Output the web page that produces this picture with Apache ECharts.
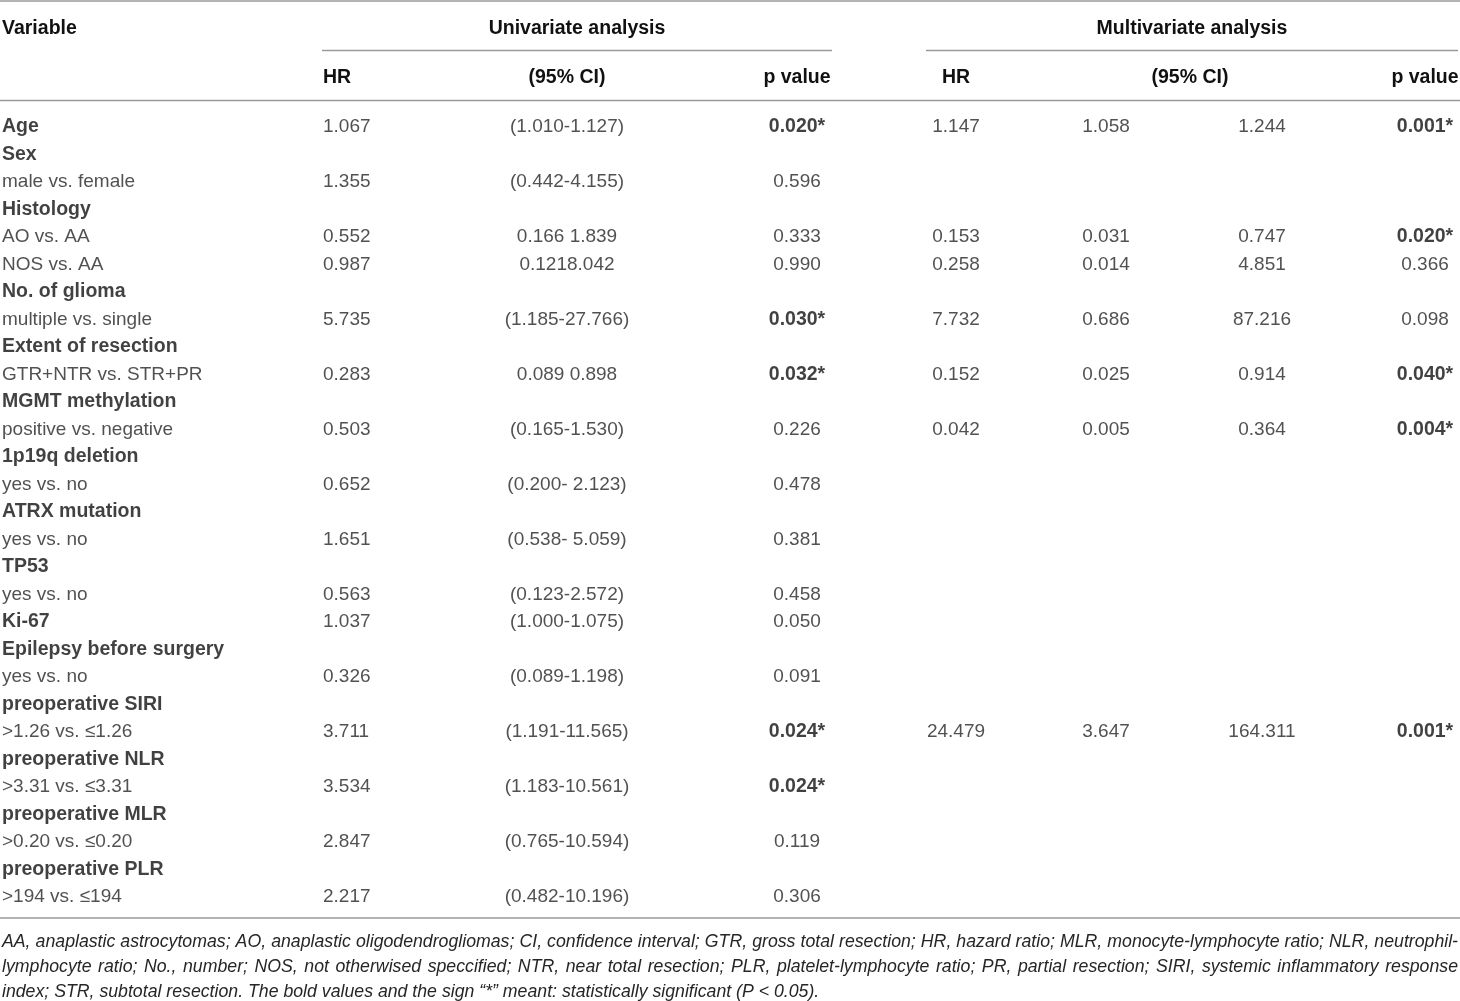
<!DOCTYPE html>
<html>
<head>
<meta charset="utf-8">
<script src="https://cdn.jsdelivr.net/npm/echarts@6/dist/echarts.min.js"></script>
<style>
  html, body { margin: 0; padding: 0; background: #fff; }
  #chart { width: 1460px; height: 1001px; }
</style>
</head>
<body>
<div id="chart"></div>
<script>
// table content, one array per column (row i is the same row in every array)
const variables = [
  'Age', 'Sex', 'male vs. female', 'Histology', 'AO vs. AA', 'NOS vs. AA',
  'No. of glioma', 'multiple vs. single', 'Extent of resection', 'GTR+NTR vs. STR+PR',
  'MGMT methylation', 'positive vs. negative', '1p19q deletion', 'yes vs. no',
  'ATRX mutation', 'yes vs. no', 'TP53', 'yes vs. no', 'Ki-67',
  'Epilepsy before surgery', 'yes vs. no', 'preoperative SIRI', '>1.26 vs. ≤1.26',
  'preoperative NLR', '>3.31 vs. ≤3.31', 'preoperative MLR', '>0.20 vs. ≤0.20',
  'preoperative PLR', '>194 vs. ≤194'
];
// rows whose variable name is a bold heading
const headingRows = [0, 1, 3, 6, 8, 10, 12, 14, 16, 18, 19, 21, 23, 25, 27];

const uniHR = ['1.067', '', '1.355', '', '0.552', '0.987', '', '5.735', '', '0.283', '', '0.503', '', '0.652', '',
  '1.651', '', '0.563', '1.037', '', '0.326', '', '3.711', '', '3.534', '', '2.847', '', '2.217'];
const uniCI = ['(1.010-1.127)', '', '(0.442-4.155)', '', '0.166 1.839', '0.1218.042', '', '(1.185-27.766)', '',
  '0.089 0.898', '', '(0.165-1.530)', '', '(0.200- 2.123)', '', '(0.538- 5.059)', '', '(0.123-2.572)',
  '(1.000-1.075)', '', '(0.089-1.198)', '', '(1.191-11.565)', '', '(1.183-10.561)', '', '(0.765-10.594)', '',
  '(0.482-10.196)'];
const uniP = ['0.020*', '', '0.596', '', '0.333', '0.990', '', '0.030*', '', '0.032*', '', '0.226', '', '0.478', '',
  '0.381', '', '0.458', '0.050', '', '0.091', '', '0.024*', '', '0.024*', '', '0.119', '', '0.306'];

const multiHR = ['1.147', '', '', '', '0.153', '0.258', '', '7.732', '', '0.152', '', '0.042', '', '', '',
  '', '', '', '', '', '', '', '24.479', '', '', '', '', '', ''];
const multiLow = ['1.058', '', '', '', '0.031', '0.014', '', '0.686', '', '0.025', '', '0.005', '', '', '',
  '', '', '', '', '', '', '', '3.647', '', '', '', '', '', ''];
const multiHigh = ['1.244', '', '', '', '0.747', '4.851', '', '87.216', '', '0.914', '', '0.364', '', '', '',
  '', '', '', '', '', '', '', '164.311', '', '', '', '', '', ''];
const multiP = ['0.001*', '', '', '', '0.020*', '0.366', '', '0.098', '', '0.040*', '', '0.004*', '', '', '',
  '', '', '', '', '', '', '', '0.001*', '', '', '', '', '', ''];

const footnote = [
  'AA, anaplastic astrocytomas; AO, anaplastic oligodendrogliomas; CI, confidence interval; GTR, gross total resection; HR, hazard ratio; MLR, monocyte-lymphocyte ratio; NLR, neutrophil-',
  'lymphocyte ratio; No., number; NOS, not otherwised speccified; NTR, near total resection; PLR, platelet-lymphocyte ratio; PR, partial resection; SIRI, systemic inflammatory response',
  'index; STR, subtotal resection. The bold values and the sign “*” meant: statistically significant (P < 0.05).'
];

// layout
const FONT = '"Liberation Sans", Arial, sans-serif';
const W = 1460;
const TEXT = '#262626';
const BOLD = '#111';
const RULE = '#9a9a9a';

// each column: data, anchor x, alignment
const columns = [
  { data: variables, x: 2, align: 'left' },
  { data: uniHR, x: 323, align: 'left' },
  { data: uniCI, x: 567, align: 'center' },
  { data: uniP, x: 797, align: 'center' },
  { data: multiHR, x: 956, align: 'center' },
  { data: multiLow, x: 1106, align: 'center' },
  { data: multiHigh, x: 1262, align: 'center' },
  { data: multiP, x: 1425, align: 'center' }
];

const rowIds = variables.map((v, i) => String(i));

const series = columns.map((col, c) => ({
  type: 'scatter',
  symbolSize: 0,
  silent: true,
  itemStyle: { color: 'transparent' },
  label: {
    show: true,
    position: 'inside',
    align: col.align,
    verticalAlign: 'middle',
    fontFamily: FONT,
    fontSize: 19,
    color: TEXT,
    formatter: p => p.name
  },
  data: col.data.map((txt, i) => {
    if (!txt) return null;
    const bold = c === 0 ? headingRows.includes(i) : txt.indexOf('*') >= 0;
    return {
      name: txt,
      value: [col.x, rowIds[i]],
      label: bold ? { fontWeight: 'bold', color: BOLD, fontSize: 19.5 } : {}
    };
  }).filter(d => d)
}));

// header texts and rules
const graphics = [];
function headText(txt, x, y, align) {
  graphics.push({
    type: 'text', x: x, y: y, silent: true,
    style: { text: txt, font: 'bold 19.5px ' + FONT, fill: BOLD, align: align, verticalAlign: 'middle' }
  });
}
function rule(x1, x2, y) {
  graphics.push({
    type: 'line', silent: true,
    shape: { x1: x1, y1: y, x2: x2, y2: y },
    style: { stroke: RULE, lineWidth: 1.5 }
  });
}
headText('Variable', 2, 29, 'left');
headText('Univariate analysis', 577, 29, 'center');
headText('Multivariate analysis', 1192, 29, 'center');
headText('HR', 323, 78, 'left');
headText('(95% CI)', 567, 78, 'center');
headText('p value', 797, 78, 'center');
headText('HR', 956, 78, 'center');
headText('(95% CI)', 1190, 78, 'center');
headText('p value', 1425, 78, 'center');
rule(0, W, 1);
rule(322, 832, 50.5);
rule(926, 1458, 50.5);
rule(0, W, 100.5);
rule(0, W, 918);

// footnote: italic, first two lines justified to full width
const ctx = document.createElement('canvas').getContext('2d');
ctx.font = 'italic 100px ' + FONT;
const noteSize = Math.min(18, 100 * 818 / ctx.measureText(footnote[2]).width);
const noteFont = 'italic ' + noteSize.toFixed(2) + 'px ' + FONT;
ctx.font = noteFont;
const noteY = [942, 967, 992];
footnote.forEach((line, li) => {
  const style = { font: noteFont, fill: TEXT, verticalAlign: 'middle', align: 'left' };
  if (li === footnote.length - 1) {
    graphics.push({ type: 'text', x: 2, y: noteY[li], silent: true, style: Object.assign({ text: line }, style) });
    return;
  }
  const words = line.split(' ');
  const widths = words.map(w => ctx.measureText(w).width);
  const total = widths.reduce((a, b) => a + b, 0);
  const gap = (1456 - total) / (words.length - 1);
  let x = 2;
  words.forEach((w, wi) => {
    graphics.push({ type: 'text', x: x, y: noteY[li], silent: true, style: Object.assign({ text: w }, style) });
    x += widths[wi] + gap;
  });
});

const chart = echarts.init(document.getElementById('chart'), null, { renderer: 'canvas' });
chart.setOption({
  animation: false,
  backgroundColor: '#fff',
  grid: { left: 0, right: 0, top: 113.25, height: 797.5 },
  xAxis: { type: 'value', min: 0, max: W, show: false },
  yAxis: { type: 'category', data: rowIds, inverse: true, show: false },
  series: series,
  graphic: graphics
});
</script>
</body>
</html>
